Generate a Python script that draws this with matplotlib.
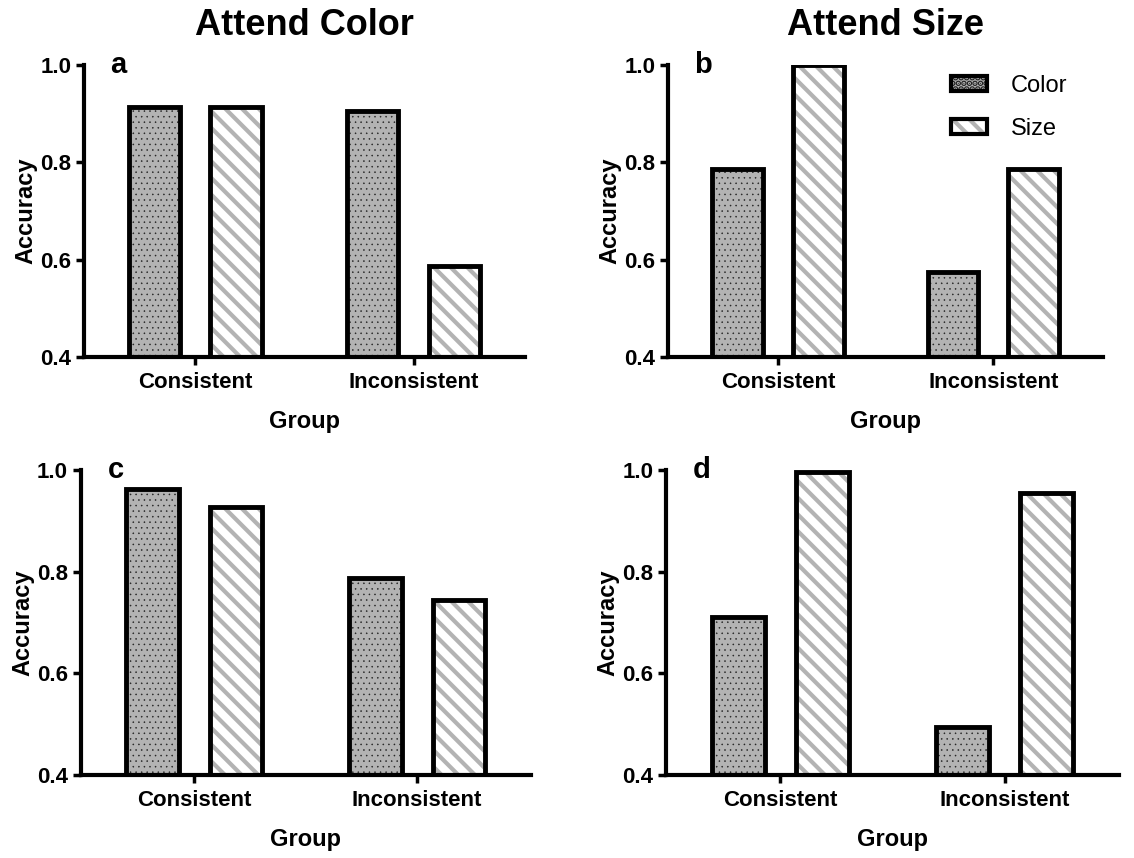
import matplotlib
matplotlib.use("Agg")
import matplotlib.pyplot as plt
import numpy as np
from matplotlib.patches import Patch
from matplotlib.legend_handler import HandlerTuple

plt.rcParams['font.family'] = ['Liberation Sans', 'DejaVu Sans']

groups = ["Consistent", "Inconsistent"]
series = ["Color", "Size"]
panel_labels = ["a", "b", "c", "d"]
col_titles = ["Attend Color", "Attend Size"]

# accuracy per panel: [consistent, inconsistent]
color_a = [0.915, 0.905]
size_a = [0.915, 0.587]
color_b = [0.786, 0.575]
size_b = [1.0, 0.786]
color_c = [0.962, 0.787]
size_c = [0.928, 0.744]
color_d = [0.71, 0.495]
size_d = [0.997, 0.955]

panels = [(color_a, size_a), (color_b, size_b), (color_c, size_c), (color_d, size_d)]

GRAY = '#b3b3b3'
styles = [
    dict(fill=GRAY, hatch_color='#222222', hatch='...', hlw=0.35),
    dict(fill='white', hatch_color=GRAY, hatch='\\\\', hlw=3.0),
]

fig = plt.figure(figsize=(11.34, 8.58), dpi=100)
positions = [
    [0.074, 0.584, 0.389, 0.340],
    [0.589, 0.584, 0.384, 0.340],
    [0.071, 0.097, 0.397, 0.355],
    [0.587, 0.097, 0.400, 0.355],
]

x = np.arange(len(groups))
width = 0.235
offset = 0.187

for i, (pos, vals) in enumerate(zip(positions, panels)):
    ax = fig.add_axes(pos)
    for j, v in enumerate(vals):
        st = styles[j]
        xs = x + (j * 2 - 1) * offset
        plt.rcParams['hatch.linewidth'] = st['hlw']
        ax.bar(xs, v, width, color=st['fill'], edgecolor=st['hatch_color'],
               hatch=st['hatch'], linewidth=0, zorder=2)
        ax.bar(xs, v, width, fill=False, edgecolor='black', linewidth=3.5, zorder=3)
    ax.set_ylim(0.4, 1.0)
    ax.set_xlim(-0.51, 1.51)
    ax.set_yticks([0.4, 0.6, 0.8, 1.0])
    ax.set_yticklabels(["0.4", "0.6", "0.8", "1.0"])
    ax.set_xticks(x)
    ax.set_xticklabels(groups)
    for lab in ax.get_xticklabels() + ax.get_yticklabels():
        lab.set_fontweight('bold')
        lab.set_fontsize(16)
    ax.tick_params(axis='both', width=2.5, length=6, direction='out')
    ax.tick_params(axis='x', pad=5)
    ax.tick_params(axis='y', pad=3)
    ax.spines['top'].set_visible(False)
    ax.spines['right'].set_visible(False)
    for s in ['left', 'bottom']:
        ax.spines[s].set_linewidth(3)
    ax.set_ylabel("Accuracy", fontsize=17, fontweight='bold', labelpad=2)
    ax.set_xlabel("Group", fontsize=17, fontweight='bold', labelpad=12)
    ax.text(0.06, 1.0, panel_labels[i], transform=ax.transAxes, fontsize=21,
            fontweight='bold', va='center', ha='left')
    if i < 2:
        ax.set_title(col_titles[i], fontsize=26, fontweight='bold', pad=22)
    if i == 1:
        handles = []
        for st in styles:
            plt.rcParams['hatch.linewidth'] = st['hlw']
            hp = Patch(facecolor=st['fill'], edgecolor=st['hatch_color'],
                       hatch=st['hatch'], linewidth=0)
            ep = Patch(facecolor='none', edgecolor='black', linewidth=3)
            handles.append((hp, ep))
        ax.legend(handles, series, handler_map={tuple: HandlerTuple(ndivide=1)},
                  loc='upper right', bbox_to_anchor=(0.965, 1.04), frameon=False,
                  fontsize=17, handlelength=1.5, handleheight=0.6,
                  labelspacing=0.9, handletextpad=1.0)

fig.savefig("out.png", dpi=100)
